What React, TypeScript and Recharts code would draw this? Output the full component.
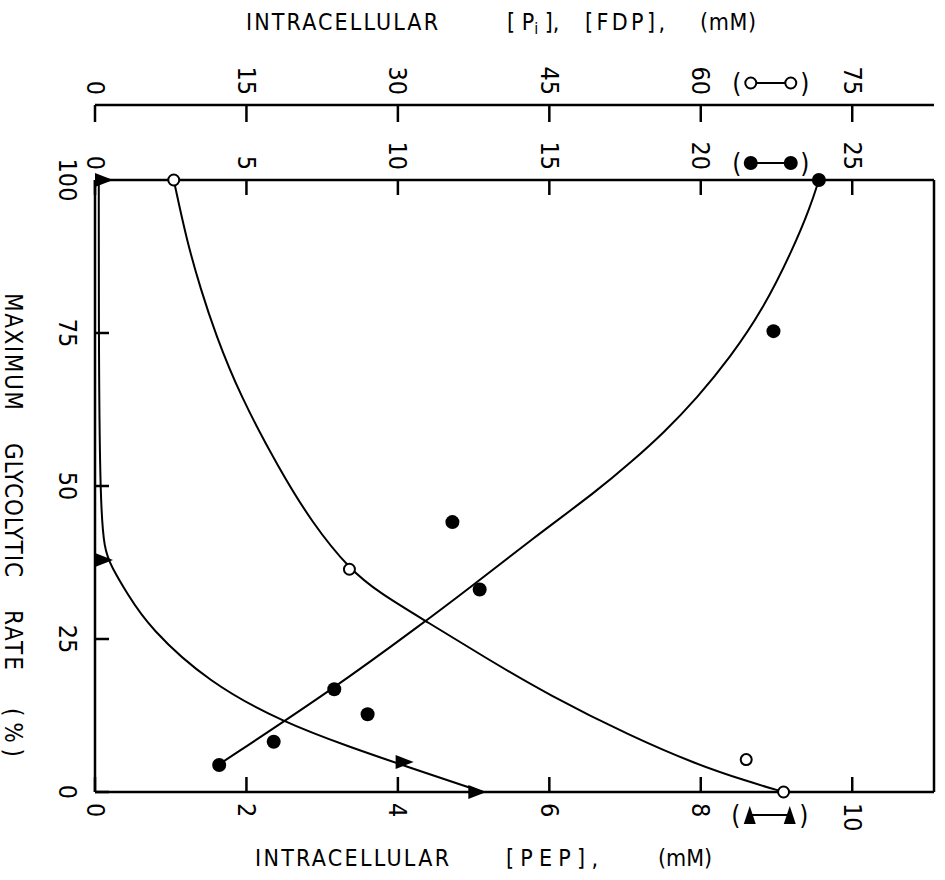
import React from 'react'
import { ComposedChart, Line, Scatter, XAxis, YAxis } from 'recharts'

// measured points: rate (% of max glycolytic rate) and concentration (mM)
const piRate = [100, 36.4, 5.3, 0]
const piValue = [7.8, 25.2, 64.5, 68.2]
const fdpRate = [100, 75.3, 44.1, 33.1, 16.8, 12.7, 8.2, 4.4]
const fdpValue = [23.9, 22.4, 11.8, 12.7, 7.9, 9.0, 5.9, 4.1]
const pepRate = [100, 37.9, 4.9, 0]
const pepValue = [0, 0, 3.97, 4.93]

// hand-drawn fitted curves
const piCurveRate = [100, 90, 82, 75, 65, 52.6, 44, 36.4, 32.5, 27.8, 22, 15.8, 9.1, 4.5, 1.8, 0]
const piCurveValue = [7.8, 9.1, 10.5, 11.9, 14.3, 18.3, 21.5, 25.2, 28.2, 32.9, 38.6, 45, 53.1, 59.6, 64.5, 68.2]
const fdpCurveRate = [100, 95.4, 88.8, 78.9, 71, 64.4, 58.8, 53.9, 49.3, 41.4, 33.1, 27.5, 16.8, 4.4]
const fdpCurveValue = [23.9, 23.6, 23.05, 22.06, 20.97, 19.88, 18.8, 17.7, 16.6, 14.45, 12.3, 10.8, 7.86, 4.06]
const pepCurveRate = [100, 70, 47.7, 39.5, 36.8, 32.5, 26.8, 17.9, 11.4, 7.2, 4.4, 0]
const pepCurveValue = [0.05, 0.05, 0.07, 0.12, 0.22, 0.42, 0.72, 1.5, 2.48, 3.4, 4.06, 5.12]

const rateTicks = [0, 25, 50, 75, 100]
const piTicks = [0, 15, 30, 45, 60, 75]
const fdpTicks = [0, 5, 10, 15, 20, 25]
const pepTicks = [0, 2, 4, 6, 8, 10]

const rows = (rate: number[], key: string, vals: number[]) =>
  rate.map((r, i) => ({ rate: r, [key]: vals[i] }))

const piPoints = rows(piRate, 'pi', piValue)
const fdpPoints = rows(fdpRate, 'fdp', fdpValue)
const pepPoints = rows(pepRate, 'pep', pepValue)
const piCurve = rows(piCurveRate, 'pi', piCurveValue)
const fdpCurve = rows(fdpCurveRate, 'fdp', fdpCurveValue)
const pepCurve = rows(pepCurveRate, 'pep', pepCurveValue)

const FONT = "'DejaVu Sans', sans-serif"
const TXT = { fontFamily: FONT, fontStretch: 'condensed' as const }
const AXIS = { stroke: '#000', strokeWidth: 2.5 }

const OpenDot = (p: any) => <circle cx={p.cx} cy={p.cy} r={5.5} fill="#fff" stroke="#000" strokeWidth={2} />
const FilledDot = (p: any) => <circle cx={p.cx} cy={p.cy} r={7} fill="#000" />
const Tri = (p: any) => (
  <path d={`M${p.cx},${p.cy - 7}L${p.cx + 18},${p.cy}L${p.cx},${p.cy + 7}Z`} fill="#000" />
)

function Paren({ x, y, ch }: { x: number; y: number; ch: string }) {
  return (
    <text x={x} y={y} textAnchor="middle" dominantBaseline="central" style={TXT} fontSize={26}>
      {ch}
    </text>
  )
}

function LegendKey({ x, y, kind }: { x: number; y: number; kind: string }) {
  const a = x + 14
  const b = x + 54
  let m1, m2
  if (kind === 'open') {
    m1 = <circle cx={a} cy={y} r={5.5} fill="#fff" stroke="#000" strokeWidth={2} />
    m2 = <circle cx={b} cy={y} r={5.5} fill="#fff" stroke="#000" strokeWidth={2} />
  } else if (kind === 'filled') {
    m1 = <circle cx={a} cy={y} r={7} fill="#000" />
    m2 = <circle cx={b} cy={y} r={7} fill="#000" />
  } else {
    m1 = <path d={`M${a - 6},${y + 9}L${a},${y - 9}L${a + 6},${y + 9}Z`} fill="#000" />
    m2 = <path d={`M${b - 6},${y + 9}L${b},${y - 9}L${b + 6},${y + 9}Z`} fill="#000" />
  }
  return (
    <g>
      <Paren x={x} y={y} ch="(" />
      <line x1={a} x2={b} y1={y} y2={y} stroke="#000" strokeWidth={2} />
      {m1}
      {m2}
      <Paren x={x + 68} y={y} ch=")" />
    </g>
  )
}

function TopTick(props: any) {
  const { x, y, payload, len, legend, legendAt } = props
  return (
    <g>
      <line x1={x} x2={x} y1={y} y2={y + len} stroke="#000" strokeWidth={2.5} />
      <text
        transform={`translate(${x},${y - 10}) rotate(90)`}
        textAnchor="end"
        dominantBaseline="central"
        style={TXT}
        fontSize={25}
      >
        {payload.value}
      </text>
      {payload.value === legendAt && <LegendKey x={x + 36} y={y - (legend === 'open' ? 22 : 17)} kind={legend} />}
    </g>
  )
}

function BottomTick(props: any) {
  const { x, y, payload } = props
  return (
    <g>
      <line x1={x} x2={x} y1={y} y2={y - 15} stroke="#000" strokeWidth={2.5} />
      <text
        transform={`translate(${x},${y + 11}) rotate(90)`}
        textAnchor="start"
        dominantBaseline="central"
        style={TXT}
        fontSize={25}
      >
        {payload.value}
      </text>
      {payload.value === 8 && <LegendKey x={x + 35} y={y + 23} kind="tri" />}
    </g>
  )
}

function LeftTick(props: any) {
  const { x, y, payload } = props
  return (
    <g>
      <line x1={x} x2={x + 14} y1={y} y2={y} stroke="#000" strokeWidth={2.5} />
      <text
        transform={`translate(${x - 28},${y}) rotate(90)`}
        textAnchor="middle"
        dominantBaseline="central"
        style={TXT}
        fontSize={25}
      >
        {payload.value}
      </text>
    </g>
  )
}

function RightTick(props: any) {
  const { x, y } = props
  return <line x1={x} x2={x - 15} y1={y} y2={y} stroke="#000" strokeWidth={2.5} />
}

function TopTitle(props: any) {
  const x0 = props.viewBox.x
  return (
    <g style={TXT} fontSize={23} fill="#000">
      <text x={x0 + 151} y={22} dominantBaseline="central" textLength={192} lengthAdjust="spacing">
        INTRACELLULAR
      </text>
      <text x={x0 + 412} y={22} dominantBaseline="central">
        [ P<tspan fontSize={16} dy={6}>i</tspan>
        <tspan dy={-6}> ],</tspan>
      </text>
      <text x={x0 + 490} y={22} dominantBaseline="central" textLength={80} lengthAdjust="spacing">
        [FDP],
      </text>
      <text x={x0 + 605} y={22} dominantBaseline="central" textLength={56} lengthAdjust="spacing">
        (mM)
      </text>
    </g>
  )
}

function BottomTitle(props: any) {
  const x0 = props.viewBox.x
  return (
    <g style={TXT} fontSize={23} fill="#000">
      <text x={x0 + 160} y={858} dominantBaseline="central" textLength={194} lengthAdjust="spacing">
        INTRACELLULAR
      </text>
      <text x={x0 + 411} y={858} dominantBaseline="central" textLength={92} lengthAdjust="spacing">
        [PEP],
      </text>
      <text x={x0 + 563} y={858} dominantBaseline="central" textLength={54} lengthAdjust="spacing">
        (mM)
      </text>
    </g>
  )
}

function LeftTitle() {
  const parts: [string, number, number][] = [
    ['MAXIMUM', 293, 117],
    ['GLYCOLYTIC', 443, 134],
    ['RATE', 610, 60],
    ['(%)', 708, 49],
  ]
  return (
    <g transform="translate(13,0) rotate(90)" style={TXT} fontSize={24} fill="#000">
      {parts.map(([t, p, w]) => (
        <text key={t} x={p} y={0} dominantBaseline="central" textLength={w} lengthAdjust="spacing">
          {t}
        </text>
      ))}
    </g>
  )
}

export default function App() {
  return (
    <div style={{ position: 'absolute', left: 0, top: 0, width: 945, height: 880, background: '#fff' }}>
      <ComposedChart width={945} height={880} layout="vertical" margin={{ top: 0, right: 10, bottom: 0, left: 0 }}>
        <XAxis
          xAxisId="fdp"
          dataKey="fdp"
          type="number"
          orientation="top"
          domain={[0, 27.7]}
          ticks={fdpTicks}
          interval={0}
          height={75}
          tickSize={0}
          tickMargin={0}
          tickLine={false}
          axisLine={AXIS}
          tick={<TopTick len={15} legend="filled" legendAt={20} />}
        />
        <XAxis
          xAxisId="pi"
          dataKey="pi"
          type="number"
          orientation="top"
          domain={[0, 83.1]}
          ticks={piTicks}
          interval={0}
          height={105}
          tickSize={0}
          tickMargin={0}
          tickLine={false}
          axisLine={AXIS}
          tick={<TopTick len={17} legend="open" legendAt={60} />}
          label={{ content: TopTitle }}
        />
        <XAxis
          xAxisId="pep"
          dataKey="pep"
          type="number"
          orientation="bottom"
          domain={[0, 11.08]}
          ticks={pepTicks}
          interval={0}
          height={88}
          tickSize={0}
          tickMargin={0}
          tickLine={false}
          axisLine={AXIS}
          tick={<BottomTick />}
          label={{ content: BottomTitle }}
        />
        <YAxis
          yAxisId="rate"
          dataKey="rate"
          type="number"
          reversed
          domain={[0, 100]}
          ticks={rateTicks}
          interval={0}
          width={95}
          tickSize={0}
          tickMargin={0}
          tickLine={false}
          axisLine={AXIS}
          tick={<LeftTick />}
          label={{ content: LeftTitle }}
        />
        <YAxis
          yAxisId="right"
          dataKey="rate"
          type="number"
          reversed
          orientation="right"
          domain={[0, 100]}
          ticks={[25, 50, 75]}
          interval={0}
          width={1}
          tickSize={0}
          tickMargin={0}
          tickLine={false}
          axisLine={AXIS}
          tick={<RightTick />}
        />
        <Line xAxisId="pi" yAxisId="rate" data={piCurve} dataKey="pi" type="basis" stroke="#000" strokeWidth={2} dot={false} activeDot={false} isAnimationActive={false} />
        <Line xAxisId="fdp" yAxisId="rate" data={fdpCurve} dataKey="fdp" type="basis" stroke="#000" strokeWidth={2} dot={false} activeDot={false} isAnimationActive={false} />
        <Line xAxisId="pep" yAxisId="rate" data={pepCurve} dataKey="pep" type="basis" stroke="#000" strokeWidth={2} dot={false} activeDot={false} isAnimationActive={false} />
        <Scatter xAxisId="pi" yAxisId="rate" data={piPoints} dataKey="pi" shape={<OpenDot />} isAnimationActive={false} />
        <Scatter xAxisId="fdp" yAxisId="rate" data={fdpPoints} dataKey="fdp" shape={<FilledDot />} isAnimationActive={false} />
        <Scatter xAxisId="pep" yAxisId="rate" data={pepPoints} dataKey="pep" shape={<Tri />} isAnimationActive={false} />
      </ComposedChart>
    </div>
  )
}
